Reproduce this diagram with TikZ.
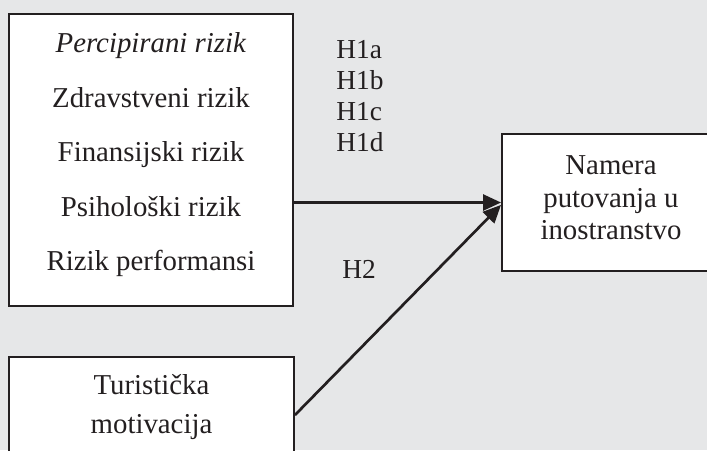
\documentclass[tikz,border=0pt]{standalone}
\usepackage{fontspec}
\setmainfont{Liberation Serif}
\usetikzlibrary{positioning,arrows.meta,calc}
\definecolor{PaperGray}{RGB}{230,231,232}
\definecolor{InkBlack}{RGB}{35,31,32}

\begin{document}
\begin{tikzpicture}[every node/.style={align=center, text=InkBlack},
  factor/.style={draw=InkBlack, line width=1.4pt, fill=white, inner sep=0pt},
  patharrow/.style={-{Triangle[length=0.45cm,width=0.4cm]}, line width=1.9pt, InkBlack},
  hyp/.style={font=\fontsize{19.5}{22}\selectfont, inner sep=0pt, align=left}]
  \fill[PaperGray] (0,0) rectangle (17.675,-11.25);
  \useasboundingbox (0,0) rectangle (17.675,-11.25);
  \clip (0,0) rectangle (17.675,-11.25);
  \node[factor, minimum width=7.1cm, minimum height=7.3cm, font=\fontsize{20.5}{38.8}\selectfont] (risk) at (3.775,-4.0)
    {\textit{Percipirani rizik}\\Zdravstveni rizik\\Finansijski rizik\\Psihološki rizik\\Rizik performansi\strut};
  \node[factor, minimum width=7.125cm, minimum height=2.5cm, font=\fontsize{20.5}{27.6}\selectfont] (motiv) at (3.7875,-10.175)
    {Turistička\\motivacija};
  \node[factor, minimum width=5.45cm, minimum height=3.425cm, font=\fontsize{20.5}{23.4}\selectfont] (goal) at (15.275,-5.0625)
    {Namera\\putovanja u\\inostranstvo\strut};
  % hypothesis labels
  \node[hyp, anchor=north west] (h1) at (8.4,-1.01) {H1a\\H1b\\H1c\\H1d};
  \node[hyp, anchor=base west] (h2) at (8.55,-6.95) {H2};
  \draw[patharrow] (risk.east |- goal.west) -- (goal.west);
  \draw[patharrow] ($(motiv.east)+(0,-0.2)$) -- ($(goal.west)+(0,-0.06)$);
\end{tikzpicture}
\end{document}
